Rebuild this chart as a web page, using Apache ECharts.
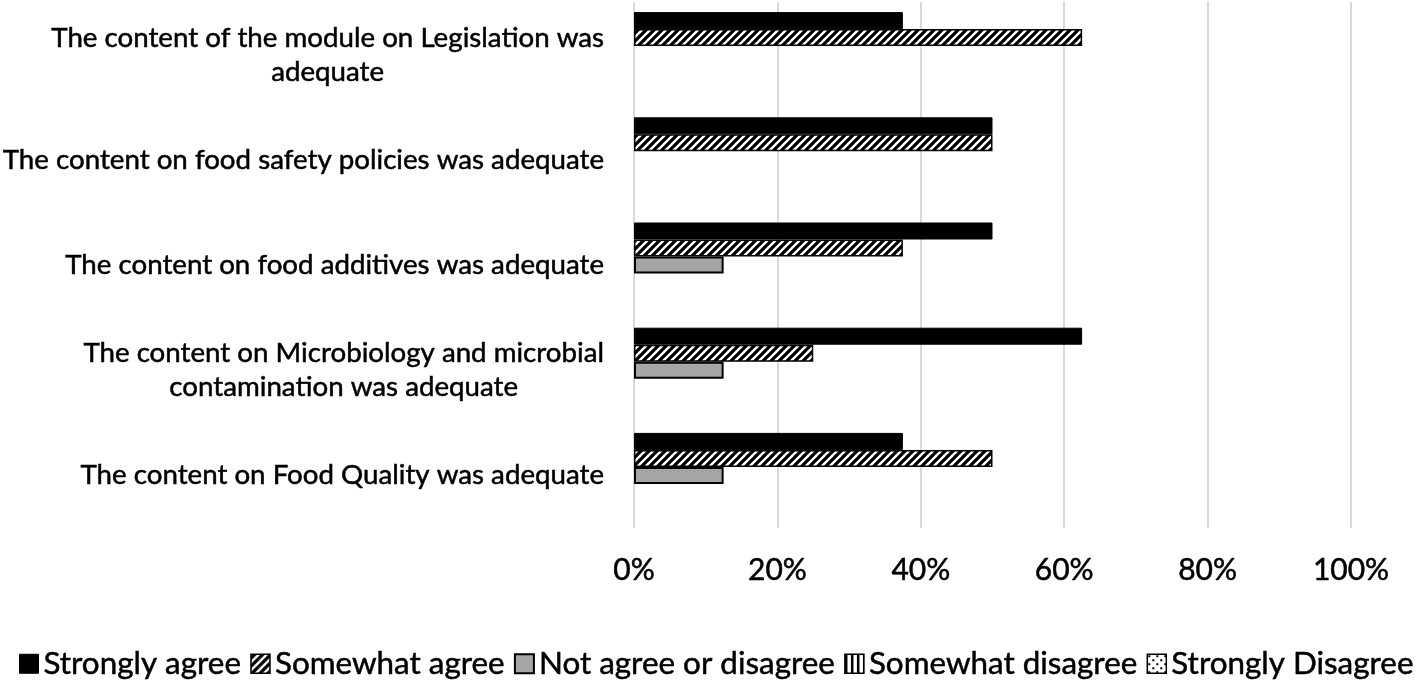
<!DOCTYPE html>
<html>
<head>
<meta charset="utf-8">
<script src="https://cdn.jsdelivr.net/npm/echarts@6/dist/echarts.min.js"></script>
<style>
html,body{margin:0;padding:0;background:#fff;}
#c{width:1418px;height:682px;}
</style>
</head>
<body>
<div id="c"></div>
<script>
// ---- data ----
const categories = [
  "The content of the module on Legislation was\nadequate",
  "The content on food safety policies was adequate",
  "The content on food additives was adequate",
  "The content on Microbiology and microbial\ncontamination was adequate",
  "The content on Food Quality was adequate"
];
const seriesNames = ["Strongly agree", "Somewhat agree", "Not agree or disagree", "Somewhat disagree", "Strongly Disagree"];
const stronglyAgree    = [0.375, 0.50, 0.50, 0.625, 0.375];
const somewhatAgree    = [0.625, 0.50, 0.375, 0.25, 0.50];
const notAgreeDisagree = [0, 0, 0.125, 0.125, 0.125];
const somewhatDisagree = [0, 0, 0, 0, 0];
const stronglyDisagree = [0, 0, 0, 0, 0];
const tickValues = [0, 0.2, 0.4, 0.6, 0.8, 1.0];

// ---- patterns ----
function makeCanvas(w, h, draw) {
  const c = document.createElement('canvas');
  c.width = w; c.height = h;
  draw(c.getContext('2d'));
  return c;
}
const hatch = makeCanvas(8, 8, ctx => {
  ctx.fillStyle = '#000'; ctx.fillRect(0, 0, 8, 8);
  ctx.strokeStyle = '#fff'; ctx.lineWidth = 2.4;
  ctx.beginPath();
  ctx.moveTo(-2, 10); ctx.lineTo(10, -2);
  ctx.moveTo(-6, 6); ctx.lineTo(6, -6);
  ctx.moveTo(2, 14); ctx.lineTo(14, 2);
  ctx.stroke();
});
const vstripes = makeCanvas(6, 6, ctx => {
  ctx.fillStyle = '#fff'; ctx.fillRect(0, 0, 6, 6);
  ctx.fillStyle = '#000'; ctx.fillRect(0, 0, 2.5, 6);
});
const dots = makeCanvas(8, 8, ctx => {
  ctx.fillStyle = '#fff'; ctx.fillRect(0, 0, 8, 8);
  ctx.fillStyle = '#000'; ctx.fillRect(1, 1, 2, 2); ctx.fillRect(5, 5, 2, 2);
});

const styles = [
  { color: '#000000', borderColor: '#000', borderWidth: 1 },
  { color: { image: hatch, repeat: 'repeat' }, borderColor: '#000', borderWidth: 1.5 },
  { color: '#a5a5a5', borderColor: '#000', borderWidth: 2 },
  { color: { image: vstripes, repeat: 'repeat' }, borderColor: '#000', borderWidth: 1.5 },
  { color: { image: dots, repeat: 'repeat' }, borderColor: '#000', borderWidth: 1.5 }
];
const allData = [stronglyAgree, somewhatAgree, notAgreeDisagree, somewhatDisagree, stronglyDisagree];

const FONT = 'Lato, Carlito, "Liberation Sans", sans-serif';
const thick = { textBorderColor: '#000', textBorderWidth: 0.5 };

const series = seriesNames.map((name, i) => ({
  name: name,
  type: 'bar',
  barWidth: 17,
  barGap: '0%',
  itemStyle: styles[i],
  emphasis: { disabled: true },
  data: allData[i].map(v => v === 0 ? { value: v, itemStyle: { borderWidth: 0, opacity: 0 } } : v)
}));

const chart = echarts.init(document.getElementById('c'), null, { renderer: 'canvas' });
chart.setOption({
  animation: false,
  backgroundColor: '#fff',
  grid: { left: 634, right: 67, top: 2, height: 526, containLabel: false, outerBoundsMode: 'none' },
  xAxis: {
    type: 'value', min: 0, max: 1, interval: 0.2,
    axisLine: { show: false }, axisTick: { show: false },
    splitLine: { show: true, lineStyle: { color: '#d9d9d9', width: 2 } },
    axisLabel: Object.assign({
      margin: 27, color: '#000', fontSize: 30, fontFamily: FONT,
      formatter: v => Math.round(v * 100) + '%'
    }, thick)
  },
  yAxis: {
    type: 'category', inverse: true, data: categories,
    axisLine: { show: false }, axisTick: { show: false },
    axisLabel: {
      margin: 30, color: '#000', fontSize: 27.7, fontFamily: FONT, lineHeight: 34,
      formatter: v => v.split('\n').map(s => '{c|' + s + '}').join('\n'),
      rich: { c: Object.assign({ align: 'center', fontSize: 27.7, fontFamily: FONT, color: '#000', lineHeight: 34 }, thick) }
    }
  },
  legend: {
    left: 14, top: 643, width: 1440,
    itemWidth: 19, itemHeight: 19, itemGap: 9,
    icon: 'rect',
    textStyle: Object.assign({ color: '#000', fontSize: 31.4, fontFamily: FONT }, thick),
    data: seriesNames.map((n, i) => ({ name: n, itemStyle: styles[i] }))
  },
  series: series
});
</script>
</body>
</html>
